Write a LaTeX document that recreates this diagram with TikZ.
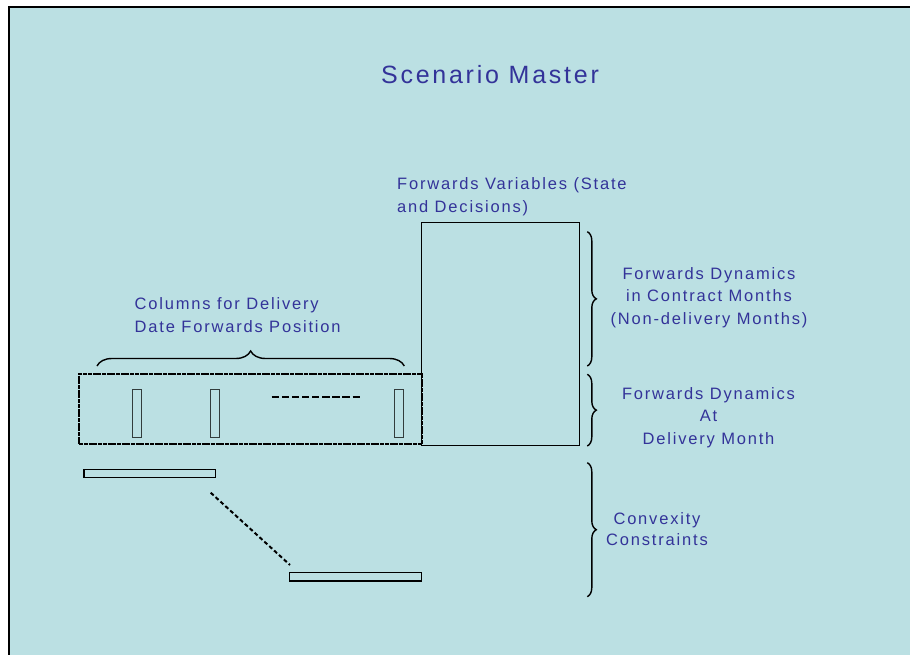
\documentclass[tikz,border=0pt]{standalone}
\usepackage{fontspec}
\setmainfont{Liberation Sans}
\newfontfamily\labfont[LetterSpace=11]{Liberation Sans}
\usetikzlibrary{decorations.pathreplacing}
\definecolor{panel}{RGB}{187,224,227}
\definecolor{ink}{RGB}{51,51,153}
\definecolor{colgray}{RGB}{50,60,60}
\begin{document}
\begin{tikzpicture}[x=1pt,y=-1pt,
  lab/.style={text=ink, font=\labfont\fontsize{16.5}{22.5}\selectfont, inner sep=0pt},
  titlelab/.style={text=ink, font=\labfont\fontsize{25}{30}\selectfont, inner sep=0pt},
  box/.style={draw=black, line width=1.4pt, inner sep=0pt, outer sep=0pt, anchor=north west},
  dotbox/.style={draw=black, line width=2.2pt, dash pattern=on 4pt off 0.7pt, inner sep=0pt, outer sep=0pt, anchor=north west},
  colbox/.style={draw=colgray, line width=1.1pt, inner sep=0pt, outer sep=0pt, anchor=north west, minimum width=9pt, minimum height=48pt},
  bar/.style={draw=black, line width=1.3pt, inner sep=0pt, outer sep=0pt, anchor=north west, minimum height=8.4pt},
  bracestyle/.style={draw=black, line width=1.4pt, decorate},
]
\useasboundingbox (0,0) rectangle (910,655);
% panel
\fill[panel] (9,7) rectangle (912,657);
\draw[line width=1.5pt] (9,657) -- (9,7) -- (912,7);

% title
\node[titlelab, anchor=base] (title) at (490,84) {Scenario Master};

% labels
\node[lab, anchor=north west, align=left] (fv) at (397,172.8)
  {\rule{0pt}{1em}Forwards Variables (State\\and Decisions)};
\node[lab, anchor=north west, align=left] (cols) at (134.5,292.8)
  {\rule{0pt}{1em}Columns for Delivery\\Date Forwards Position};
\node[lab, anchor=north, align=center] (fdc) at (709,262.5)
  {\rule{0pt}{1em}Forwards Dynamics\\in Contract Months\\(Non-delivery Months)};
\node[lab, anchor=north, align=center] (fdd) at (708.5,382.5)
  {\rule{0pt}{1em}Forwards Dynamics\\At\\Delivery Month};
\node[lab, anchor=north, align=center, font=\labfont\fontsize{16.5}{21}\selectfont] (conv) at (657,507.5)
  {\rule{0pt}{1em}Convexity\\Constraints};

% long dotted rectangle
\node[dotbox, minimum width=342.4pt, minimum height=70.3pt] (longrect) at (79.3,374) {};
% big rectangle
\node[box, minimum width=157.6pt, minimum height=223pt] (bigrect) at (421.7,222.3) {};

% columns
\node[colbox] (c1) at (132.3,389.3) {};
\node[colbox] (c2) at (210.9,389.3) {};
\node[colbox] (c3) at (394.9,389.3) {};

% dashed line between columns
\coordinate (dl1) at (271.7,397.3);
\coordinate (dl2) at (361.7,397.3);
\draw[line width=2pt, dash pattern=on 7.3pt off 2.8pt] (dl1) -- (dl2);

% top brace
\coordinate (tb1) at (97,366);
\coordinate (tb2) at (404.3,366);
\draw[bracestyle, decoration={brace, amplitude=15pt}] (tb1) -- (tb2);

% right braces
\coordinate (rb1a) at (587.3,231.7);
\coordinate (rb1b) at (587.3,366);
\coordinate (rb2a) at (587.3,374.3);
\coordinate (rb2b) at (587.3,446);
\coordinate (rb3a) at (587.3,462.7);
\coordinate (rb3b) at (587.3,596.7);
\draw[bracestyle, decoration={brace, amplitude=9pt}] (rb1a) -- (rb1b);
\draw[bracestyle, decoration={brace, amplitude=9pt}] (rb2a) -- (rb2b);
\draw[bracestyle, decoration={brace, amplitude=9pt}] (rb3a) -- (rb3b);

% convexity bars
\node[bar, minimum width=131.7pt] (bar1) at (84,469.3) {};
\node[bar, minimum width=132.4pt] (bar2) at (289.3,572.7) {};
\coordinate (dd1) at (210.7,492.7);
\coordinate (dd2) at (290,565);
\draw[line width=2pt, dash pattern=on 4pt off 2.6pt] (dd1) -- (dd2);
\end{tikzpicture}
\end{document}
